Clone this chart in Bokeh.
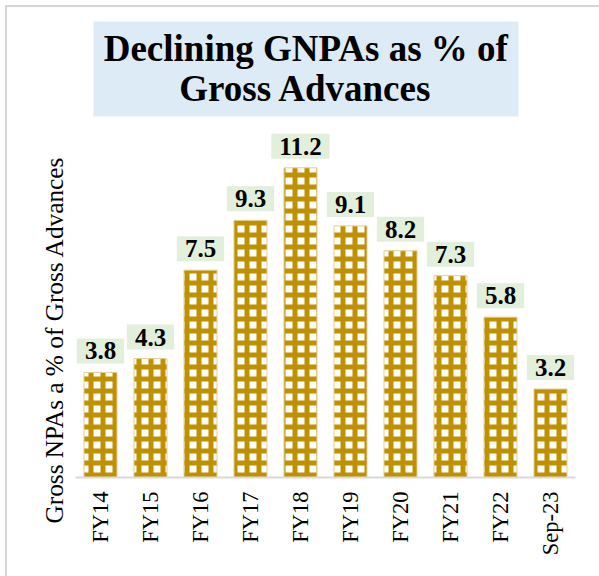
import math
from bokeh.plotting import figure
from bokeh.models import ColumnDataSource, FactorRange, Range1d, Title
from bokeh.core.properties import value
from bokeh.embed import file_html
from bokeh.resources import INLINE

# ---- data ----
categories = ["FY14", "FY15", "FY16", "FY17", "FY18", "FY19", "FY20", "FY21", "FY22", "Sep-23"]
gnpa_pct = [3.8, 4.3, 7.5, 9.3, 11.2, 9.1, 8.2, 7.3, 5.8, 3.2]
title_lines = ["Declining GNPAs as % of", "Gross Advances"]
y_title = "Gross NPAs a % of Gross Advances"

# ---- layout ----
W, H = 599, 576
LEFT, RIGHT, TOP, BOTTOM = 75, 24, 0, 99
FRAME_H = H - TOP - BOTTOM
PX_PER_UNIT = 27.65
Y_END = FRAME_H / PX_PER_UNIT
X_UNIT = (W - LEFT - RIGHT) / len(categories)


def px_x(page_x):
    return (page_x - LEFT) / X_UNIT


def px_y(page_y):
    return (TOP + FRAME_H - page_y) / PX_PER_UNIT


GOLD = "#BF9000"
BORDER = "#D6D6D6"

source = ColumnDataSource(dict(
    cat=categories,
    val=gnpa_pct,
    lab=[f"{v:.1f}" for v in gnpa_pct],
))

p = figure(
    x_range=FactorRange(*categories),
    y_range=Range1d(0, Y_END),
    width=W, height=H,
    min_border_left=LEFT, min_border_right=RIGHT,
    min_border_top=TOP, min_border_bottom=BOTTOM,
    output_backend="svg", toolbar_location=None,
    y_axis_location=None,
    outline_line_color=None,
    border_fill_color=None,
    background_fill_color=None,
)
p.styles = {
    "background-image": f"linear-gradient({BORDER}, {BORDER}), linear-gradient({BORDER}, {BORDER})",
    "background-size": "2px 100%, 100% 2px",
    "background-position": "5px 5px, 5px 5px",
    "background-repeat": "no-repeat",
}

# title box
p.quad(left=[px_x(93)], right=[px_x(518)], top=[px_y(21)], bottom=[px_y(116)],
       fill_color="#DDEBF7", line_color=None)
p.text(x=[px_x(305.3)] * 2, y=[px_y(47.5), px_y(87.5)], text=title_lines,
       text_align="center", text_baseline="middle",
       text_font=value("Liberation Serif"), text_font_style="bold",
       text_font_size="37px", text_color="black")

# bars (gold lattice with white cells)
p.vbar(x="cat", top="val", width=0.66, source=source,
       fill_color="white", line_color="#E3CD8E", line_width=1,
       hatch_pattern="cross", hatch_color=GOLD, hatch_scale=12, hatch_weight=5)

# data labels
p.text(x="cat", y="val", text="lab", source=source,
       text_align="center", text_baseline="bottom", y_offset=-9,
       text_font=value("Liberation Serif"), text_font_style="bold",
       text_font_size="25px", text_color="black",
       background_fill_color="#E2EFDA",
       padding=dict(left=8, right=8, top=4, bottom=4))

# y axis title
p.add_layout(Title(text=y_title, align="left", offset=-46,
                   text_font="Liberation Serif", text_font_style="normal",
                   text_font_size="25.3px", text_color="black", standoff=15), "left")

ax = p.xaxis[0]
ax.major_label_orientation = math.pi / 2
ax.major_label_text_font = "Liberation Serif"
ax.major_label_text_font_size = "22.5px"
ax.major_label_text_color = "black"
ax.axis_line_color = "#D9D9D9"
ax.axis_line_width = 2
ax.major_tick_line_color = None
ax.minor_tick_line_color = None
ax.major_tick_out = 0
ax.major_tick_in = 0
ax.major_label_standoff = 14
p.xgrid.grid_line_color = None
p.ygrid.grid_line_color = None

open("out.html", "w").write(file_html(p, INLINE))
